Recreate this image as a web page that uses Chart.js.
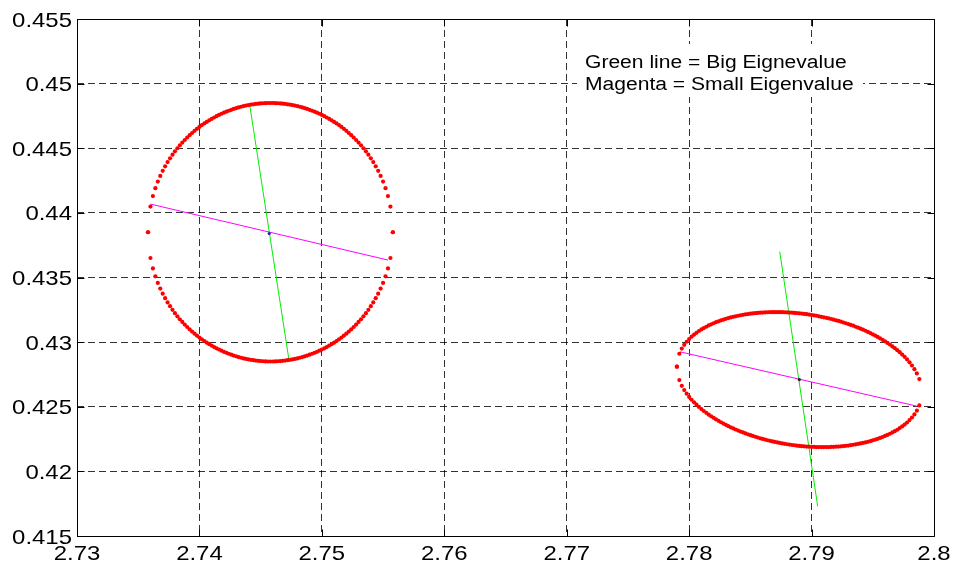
<!DOCTYPE html>
<html>
<head>
<meta charset="utf-8">
<script src="https://cdn.jsdelivr.net/npm/chart.js@4.4.1/dist/chart.umd.min.js"></script>
<style>
  html, body { margin: 0; padding: 0; background: #fff; }
  #wrap { width: 953px; height: 565px; }
</style>
</head>
<body>
<div id="wrap"><canvas id="myChart" width="953" height="565"></canvas></div>
<script>
// left ellipse (red dots), upper and lower branch share the x values
const circleX = [2.7358, 2.7360, 2.7362, 2.7364, 2.7366, 2.7368, 2.7370, 2.7372, 2.7374, 2.7376,
                 2.7378, 2.7380, 2.7382, 2.7384, 2.7386, 2.7388, 2.7390, 2.7392, 2.7394, 2.7396,
                 2.7398, 2.7400, 2.7402, 2.7404, 2.7406, 2.7408, 2.7410, 2.7412, 2.7414, 2.7416,
                 2.7418, 2.7420, 2.7422, 2.7424, 2.7426, 2.7428, 2.7430, 2.7432, 2.7434, 2.7436,
                 2.7438, 2.7440, 2.7442, 2.7444, 2.7446, 2.7448, 2.7450, 2.7452, 2.7454, 2.7456,
                 2.7458,
                 2.7460, 2.7462, 2.7464, 2.7466, 2.7468, 2.7470, 2.7472, 2.7474, 2.7476, 2.7478,
                 2.7480, 2.7482, 2.7484, 2.7486, 2.7488, 2.7490, 2.7492, 2.7494, 2.7496, 2.7498,
                 2.7500, 2.7502, 2.7504, 2.7506, 2.7508, 2.7510, 2.7512, 2.7514, 2.7516, 2.7518,
                 2.7520, 2.7522, 2.7524, 2.7526, 2.7528, 2.7530, 2.7532, 2.7534, 2.7536, 2.7538,
                 2.7540, 2.7542, 2.7544, 2.7546, 2.7548, 2.7550, 2.7552, 2.7554, 2.7556, 2.7558];
const circleTop = [0.43850, 0.44049, 0.44130, 0.44191, 0.44242, 0.44286, 0.44325, 0.44360, 0.44393, 0.44422,
                   0.44450, 0.44476, 0.44500, 0.44523, 0.44544, 0.44564, 0.44583, 0.44601, 0.44618, 0.44635,
                   0.44650, 0.44665, 0.44679, 0.44692, 0.44704, 0.44716, 0.44727, 0.44738, 0.44748, 0.44758,
                   0.44767, 0.44775, 0.44783, 0.44790, 0.44797, 0.44804, 0.44810, 0.44816, 0.44821, 0.44826,
                   0.44830, 0.44834, 0.44837, 0.44840, 0.44843, 0.44845, 0.44847, 0.44848, 0.44849, 0.44850,
                   0.44850,
                   0.44850, 0.44849, 0.44848, 0.44847, 0.44845, 0.44843, 0.44840, 0.44837, 0.44834, 0.44830,
                   0.44826, 0.44821, 0.44816, 0.44810, 0.44804, 0.44797, 0.44790, 0.44783, 0.44775, 0.44767,
                   0.44758, 0.44748, 0.44738, 0.44727, 0.44716, 0.44704, 0.44692, 0.44679, 0.44665, 0.44650,
                   0.44635, 0.44618, 0.44601, 0.44583, 0.44564, 0.44544, 0.44523, 0.44500, 0.44476, 0.44450,
                   0.44422, 0.44393, 0.44360, 0.44325, 0.44286, 0.44242, 0.44191, 0.44130, 0.44049, 0.43850];
const circleBottom = [0.43850, 0.43651, 0.43570, 0.43509, 0.43458, 0.43414, 0.43375, 0.43340, 0.43307, 0.43278,
                      0.43250, 0.43224, 0.43200, 0.43177, 0.43156, 0.43136, 0.43117, 0.43099, 0.43082, 0.43065,
                      0.43050, 0.43035, 0.43022, 0.43008, 0.42996, 0.42984, 0.42973, 0.42962, 0.42952, 0.42943,
                      0.42934, 0.42925, 0.42917, 0.42910, 0.42903, 0.42896, 0.42890, 0.42884, 0.42879, 0.42874,
                      0.42870, 0.42866, 0.42863, 0.42860, 0.42857, 0.42855, 0.42853, 0.42852, 0.42851, 0.42850,
                      0.42850,
                      0.42850, 0.42851, 0.42852, 0.42853, 0.42855, 0.42857, 0.42860, 0.42863, 0.42866, 0.42870,
                      0.42874, 0.42879, 0.42884, 0.42890, 0.42896, 0.42903, 0.42910, 0.42917, 0.42925, 0.42934,
                      0.42943, 0.42952, 0.42962, 0.42973, 0.42984, 0.42996, 0.43008, 0.43022, 0.43035, 0.43050,
                      0.43065, 0.43082, 0.43099, 0.43117, 0.43136, 0.43156, 0.43177, 0.43200, 0.43224, 0.43250,
                      0.43278, 0.43307, 0.43340, 0.43375, 0.43414, 0.43458, 0.43509, 0.43570, 0.43651, 0.43850];

// right ellipse (red dots)
const ellipseX = [2.7790, 2.7792, 2.7794, 2.7796, 2.7798, 2.7800, 2.7802, 2.7804, 2.7806, 2.7808,
                  2.7810, 2.7812, 2.7814, 2.7816, 2.7818, 2.7820, 2.7822, 2.7824, 2.7826, 2.7828,
                  2.7830, 2.7832, 2.7834, 2.7836, 2.7838, 2.7840, 2.7842, 2.7844, 2.7846, 2.7848,
                  2.7850, 2.7852, 2.7854, 2.7856, 2.7858, 2.7860, 2.7862, 2.7864, 2.7866, 2.7868,
                  2.7870, 2.7872, 2.7874, 2.7876, 2.7878, 2.7880, 2.7882, 2.7884, 2.7886, 2.7888,
                  2.7890,
                  2.7892, 2.7894, 2.7896, 2.7898, 2.7900, 2.7902, 2.7904, 2.7906, 2.7908, 2.7910,
                  2.7912, 2.7914, 2.7916, 2.7918, 2.7920, 2.7922, 2.7924, 2.7926, 2.7928, 2.7930,
                  2.7932, 2.7934, 2.7936, 2.7938, 2.7940, 2.7942, 2.7944, 2.7946, 2.7948, 2.7950,
                  2.7952, 2.7954, 2.7956, 2.7958, 2.7960, 2.7962, 2.7964, 2.7966, 2.7968, 2.7970,
                  2.7972, 2.7974, 2.7976, 2.7978, 2.7980, 2.7982, 2.7984, 2.7986, 2.7988];
const ellipseTop = [0.42810, 0.42910, 0.42950, 0.42979, 0.43003, 0.43024, 0.43042, 0.43058, 0.43072, 0.43086,
                    0.43098, 0.43109, 0.43119, 0.43129, 0.43138, 0.43146, 0.43154, 0.43161, 0.43168, 0.43174,
                    0.43180, 0.43186, 0.43191, 0.43196, 0.43200, 0.43204, 0.43208, 0.43211, 0.43215, 0.43217,
                    0.43220, 0.43222, 0.43224, 0.43226, 0.43228, 0.43229, 0.43230, 0.43231, 0.43232, 0.43232,
                    0.43232, 0.43232, 0.43232, 0.43232, 0.43231, 0.43230, 0.43229, 0.43228, 0.43226, 0.43225,
                    0.43223,
                    0.43221, 0.43218, 0.43216, 0.43213, 0.43210, 0.43207, 0.43204, 0.43200, 0.43196, 0.43192,
                    0.43188, 0.43184, 0.43179, 0.43174, 0.43169, 0.43164, 0.43158, 0.43152, 0.43146, 0.43140,
                    0.43133, 0.43127, 0.43119, 0.43112, 0.43104, 0.43096, 0.43088, 0.43079, 0.43070, 0.43060,
                    0.43050, 0.43040, 0.43029, 0.43018, 0.43006, 0.42994, 0.42981, 0.42967, 0.42953, 0.42938,
                    0.42922, 0.42904, 0.42886, 0.42866, 0.42844, 0.42819, 0.42791, 0.42758, 0.42714];
const ellipseBottom = [0.42810, 0.42706, 0.42662, 0.42629, 0.42601, 0.42576, 0.42554, 0.42534, 0.42516, 0.42499,
                       0.42482, 0.42467, 0.42453, 0.42439, 0.42426, 0.42414, 0.42402, 0.42391, 0.42380, 0.42370,
                       0.42360, 0.42350, 0.42341, 0.42332, 0.42324, 0.42316, 0.42308, 0.42301, 0.42294, 0.42287,
                       0.42280, 0.42274, 0.42268, 0.42262, 0.42256, 0.42251, 0.42246, 0.42241, 0.42236, 0.42232,
                       0.42228, 0.42224, 0.42220, 0.42216, 0.42213, 0.42210, 0.42207, 0.42204, 0.42202, 0.42199,
                       0.42197,
                       0.42195, 0.42194, 0.42192, 0.42191, 0.42190, 0.42189, 0.42188, 0.42188, 0.42188, 0.42188,
                       0.42188, 0.42188, 0.42189, 0.42190, 0.42191, 0.42192, 0.42194, 0.42196, 0.42198, 0.42200,
                       0.42203, 0.42206, 0.42209, 0.42212, 0.42216, 0.42220, 0.42224, 0.42229, 0.42234, 0.42240,
                       0.42246, 0.42252, 0.42259, 0.42266, 0.42274, 0.42282, 0.42291, 0.42301, 0.42311, 0.42322,
                       0.42335, 0.42348, 0.42362, 0.42378, 0.42397, 0.42417, 0.42441, 0.42470, 0.42510];

// eigenvector lines and centres
const greenLine1X = [2.7441, 2.7473];
const greenLine1Y = [0.4484, 0.4287];
const greenLine2X = [2.7874, 2.7905];
const greenLine2Y = [0.4370, 0.4173];
const magentaLine1X = [2.7360, 2.7554];
const magentaLine1Y = [0.44068, 0.43635];
const magentaLine2X = [2.77925, 2.79859];
const magentaLine2Y = [0.42925, 0.42505];
const centerX = [2.7457, 2.7890];
const centerY = [0.4384, 0.4271];

const xTicks = [2.73, 2.74, 2.75, 2.76, 2.77, 2.78, 2.79, 2.8];
const xTickLabels = ['2.73', '2.74', '2.75', '2.76', '2.77', '2.78', '2.79', '2.8'];
const yTicks = [0.415, 0.42, 0.425, 0.43, 0.435, 0.44, 0.445, 0.45, 0.455];
const yTickLabels = ['0.415', '0.42', '0.425', '0.43', '0.435', '0.44', '0.445', '0.45', '0.455'];
const notes = ['Green line = Big Eignevalue', 'Magenta = Small Eigenvalue'];

const pts = (xs, ys) => xs.map((x, i) => ({x: x, y: ys[i]}));

function dots(xs, ys) {
    return {
        data: pts(xs, ys),
        pointRadius: 2.1,
        pointBackgroundColor: '#ff0000',
        pointBorderWidth: 0,
        order: 1
    };
}
function segment(xs, ys, color) {
    return {
        data: pts(xs, ys),
        showLine: true,
        borderColor: color,
        borderWidth: 1,
        pointRadius: 0,
        order: color === '#ff00ff' ? 2 : 3
    };
}

// text drawn a bit wider than the font, like the original
function wideText(ctx, text, x, y, align, sx) {
    ctx.save();
    ctx.translate(x, y);
    ctx.scale(sx, 1);
    ctx.textAlign = align;
    ctx.fillText(text, 0, 0);
    ctx.restore();
}

const frame = {
    id: 'frame',
    afterDraw(chart) {
        const {ctx, chartArea: a, scales} = chart;
        const L = Math.round(a.left) + 0.5, R = Math.round(a.right) + 0.5;
        const T = Math.round(a.top) + 0.5, B = Math.round(a.bottom) + 0.5;
        ctx.save();
        ctx.strokeStyle = '#000';
        ctx.lineWidth = 1;
        ctx.beginPath();
        ctx.rect(L, T, R - L, B - T);
        // ticks pointing inwards
        xTicks.forEach(v => {
            const px = Math.round(scales.x.getPixelForValue(v)) + 0.5;
            ctx.moveTo(px, B); ctx.lineTo(px, B - 7);
            ctx.moveTo(px, T); ctx.lineTo(px, T + 7);
        });
        yTicks.forEach(v => {
            const py = Math.round(scales.y.getPixelForValue(v)) + 0.5;
            ctx.moveTo(L, py); ctx.lineTo(L + 7, py);
            ctx.moveTo(R, py); ctx.lineTo(R - 7, py);
        });
        ctx.stroke();

        ctx.fillStyle = '#000';
        ctx.textBaseline = 'alphabetic';
        ctx.font = '21px "Liberation Sans", Arial, Helvetica, sans-serif';
        yTicks.forEach((v, i) => {
            wideText(ctx, yTickLabels[i], 72, scales.y.getPixelForValue(v) + 7.5, 'right', 1.14);
        });
        xTicks.forEach((v, i) => {
            wideText(ctx, xTickLabels[i], scales.x.getPixelForValue(v), 560, 'center', 1.14);
        });

        // note box with white background hides the grid behind it
        ctx.fillStyle = '#fff';
        ctx.fillRect(577, 44, 286, 53);
        ctx.fillStyle = '#000';
        ctx.font = '18px "Liberation Sans", Arial, Helvetica, sans-serif';
        wideText(ctx, notes[0], 585, 68, 'left', 1.17);
        wideText(ctx, notes[1], 585, 90, 'left', 1.17);
        ctx.restore();
    }
};

const ctx = document.getElementById('myChart').getContext('2d');
const myChart = new Chart(ctx, {
    type: 'scatter',
    data: {
        datasets: [
            {
                data: pts(centerX, centerY),
                pointRadius: 1.6,
                pointBackgroundColor: ['#2626b0', '#222222'],
                pointBorderWidth: 0,
                order: 0
            },
            dots(circleX, circleTop),
            dots(circleX, circleBottom),
            dots(ellipseX, ellipseTop),
            dots(ellipseX, ellipseBottom),
            segment(magentaLine1X, magentaLine1Y, '#ff00ff'),
            segment(magentaLine2X, magentaLine2Y, '#ff00ff'),
            segment(greenLine1X, greenLine1Y, '#00ee00'),
            segment(greenLine2X, greenLine2Y, '#00ee00')
        ]
    },
    options: {
        responsive: false,
        animation: false,
        events: [],
        layout: { padding: { left: 77, right: 19, top: 19, bottom: 29 } },
        plugins: { legend: { display: false }, tooltip: { enabled: false } },
        scales: {
            x: {
                type: 'linear',
                min: 2.73,
                max: 2.8,
                afterBuildTicks: s => { s.ticks = xTicks.map(v => ({value: v})); },
                afterFit: s => { s.height = 0; },
                ticks: { display: false },
                grid: { color: 'rgba(0,0,0,0.8)', lineWidth: 1, drawTicks: false },
                border: { display: false, dash: [7, 4] }
            },
            y: {
                type: 'linear',
                min: 0.415,
                max: 0.455,
                afterBuildTicks: s => { s.ticks = yTicks.map(v => ({value: v})); },
                afterFit: s => { s.width = 0; },
                ticks: { display: false },
                grid: { color: 'rgba(0,0,0,0.8)', lineWidth: 1, drawTicks: false },
                border: { display: false, dash: [7, 4] }
            }
        }
    },
    plugins: [frame]
});
</script>
</body>
</html>
